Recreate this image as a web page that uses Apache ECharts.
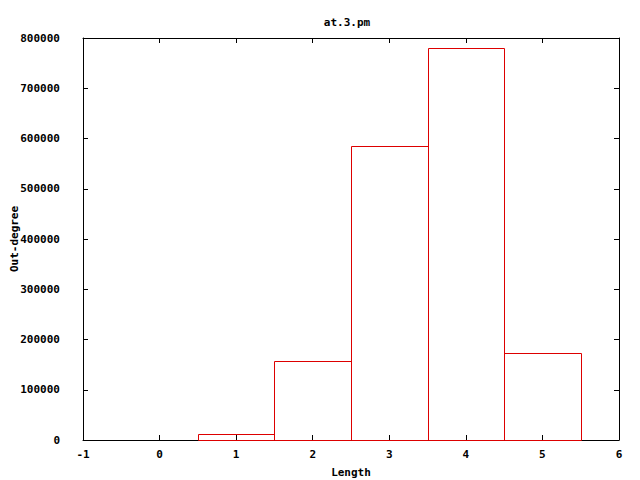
<!DOCTYPE html>
<html>
<head>
<meta charset="utf-8">
<script src="https://cdn.jsdelivr.net/npm/echarts@6/dist/echarts.min.js"></script>
<style>html,body{margin:0;padding:0;background:#fff}#c{width:640px;height:480px}</style>
</head>
<body>
<div id="c"></div>
<script>
var titleText = 'at.3.pm';
var xLabel = 'Length';
var yLabel = 'Out-degree';
var lengths = [1, 2, 3, 4, 5];
var outDegree = [12000, 158000, 585000, 780000, 173000];
var binWidth = 1;

var font = 'DejaVu Sans Mono';
var chart = echarts.init(document.getElementById('c'), null, { renderer: 'svg' });
var data = lengths.map(function (x, i) { return [x, outDegree[i]]; });

function axisCommon(show) {
  return {
    axisLine: { show: true, onZero: false, lineStyle: { color: '#000', width: 1 } },
    axisTick: { show: true, inside: true, length: 5, lineStyle: { color: '#000' } },
    splitLine: { show: false },
    axisLabel: { show: show, color: '#000', fontFamily: font, fontWeight: 'bold', fontSize: 11,
      formatter: function (v) { return String(v); } }
  };
}

var xa = Object.assign(axisCommon(true), { type: 'value', min: -1, max: 6, interval: 1, position: 'bottom',
  name: xLabel, nameLocation: 'middle', nameGap: 27, nameMoveOverlap: false,
  nameTextStyle: { color: '#000', fontFamily: font, fontWeight: 'bold', fontSize: 11 } });
xa.axisLabel.margin = 9;
var xa2 = Object.assign(axisCommon(false), { type: 'value', min: -1, max: 6, interval: 1, position: 'top' });
var ya = Object.assign(axisCommon(true), { type: 'value', min: 0, max: 800000, interval: 100000, position: 'left',
  name: yLabel, nameLocation: 'middle', nameGap: 63, nameMoveOverlap: false,
  nameTextStyle: { color: '#000', fontFamily: font, fontWeight: 'bold', fontSize: 11 } });
ya.axisLabel.margin = 23;
var ya2 = Object.assign(axisCommon(false), { type: 'value', min: 0, max: 800000, interval: 100000, position: 'right' });

chart.setOption({
  animation: false,
  backgroundColor: '#fff',
  color: ['#dd0000'],
  title: { text: titleText, left: 342, top: 12, textAlign: 'center',
    textStyle: { color: '#000', fontFamily: font, fontWeight: 'bold', fontSize: 11 } },
  grid: { left: 83, right: 21, top: 38, bottom: 40, containLabel: false, outerBoundsMode: 'none' },
  xAxis: [xa, xa2],
  yAxis: [ya, ya2],
  series: [{
    type: 'custom',
    xAxisIndex: 0, yAxisIndex: 0,
    data: data,
    renderItem: function (params, api) {
      var x = api.value(0), y = api.value(1);
      var a = api.coord([x - binWidth / 2, y]);
      var b = api.coord([x + binWidth / 2, 0]);
      var x0 = Math.round(a[0]) + 0.5, x1 = Math.round(b[0]) + 0.5;
      var y0 = Math.round(a[1]) + 0.5, y1 = Math.round(b[1]) + 0.5;
      return {
        type: 'polyline',
        shape: { points: [[x0, y1], [x0, y0], [x1, y0], [x1, y1], [x0, y1]] },
        style: { fill: null, stroke: '#dd0000', lineWidth: 1 }
      };
    }
  }]
});
</script>
</body>
</html>
